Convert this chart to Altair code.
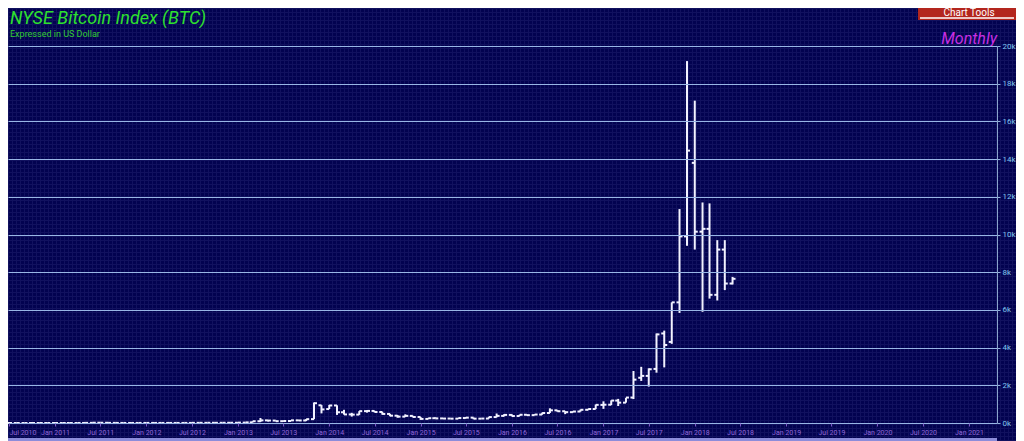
import altair as alt
import pandas as pd

# ---------------- data (monthly OHLC, US$) ----------------
first_month = "2010-07-01"
opens = [
    0.05, 0.07, 0.06, 0.06, 0.19, 0.21,
    0.30, 0.5, 0.9, 0.8, 3.5, 8.7, 16, 13.4, 8.2, 5.1, 3.2, 3.0,
    4.7, 5.5, 4.9, 4.9, 5.0, 5.1, 6.7, 9.4, 10.0, 12.4, 11.2, 12.5,
    13.5, 20.4, 33.4, 93, 139, 129, 97, 106, 141, 134, 205, 940,
    740, 930, 570, 455, 445, 630, 640, 585, 480, 388, 338, 378,
    320, 217, 254, 244, 236, 230, 263, 284, 230, 236, 314, 378,
    430, 369, 437, 416, 448, 531, 673, 624, 575, 609, 700, 742,
    960, 970, 1190, 1080, 1350, 2400, 2500, 2870, 4750, 4300, 6400, 9900,
    13800, 10150, 10300, 6800, 9200, 7400,
]
highs = [
    0.09, 0.07, 0.07, 0.20, 0.39, 0.30,
    0.5, 1.1, 0.95, 3.9, 9, 32, 16.5, 13.5, 8.2, 5.2, 3.2, 4.8,
    7.4, 6.3, 5.6, 5.4, 5.2, 6.8, 9.6, 15.4, 12.5, 12.9, 12.6, 13.9,
    20.4, 33.5, 94, 266, 140, 130, 111, 141, 145, 214, 1090, 950,
    960, 940, 700, 540, 630, 670, 650, 600, 490, 420, 460, 385,
    320, 270, 300, 260, 248, 267, 318, 285, 247, 333, 503, 469,
    460, 446, 440, 466, 550, 780, 680, 626, 620, 715, 750, 980,
    1150, 1200, 1280, 1340, 2760, 2980, 2900, 4750, 4900, 6400, 11350, 19200,
    17100, 11700, 11650, 9700, 9700, 7750,
]
lows = [
    0.05, 0.06, 0.06, 0.06, 0.19, 0.20,
    0.3, 0.5, 0.7, 0.8, 3.0, 8.7, 12, 7, 4.8, 2.3, 2.0, 2.8,
    4.7, 4.2, 4.5, 4.7, 4.9, 5.0, 6.4, 7.1, 9.8, 10.5, 10.5, 12.5,
    13.3, 19.1, 33, 50, 79, 88, 65, 100, 110, 103, 200, 510,
    740, 430, 445, 340, 430, 550, 565, 440, 360, 280, 325, 300,
    165, 205, 235, 212, 225, 218, 253, 200, 226, 236, 300, 350,
    350, 366, 403, 416, 435, 530, 600, 470, 570, 600, 680, 740,
    750, 950, 900, 1080, 1270, 2230, 1930, 2670, 2950, 4200, 5840, 9400,
    9200, 5900, 6600, 6500, 7050, 7350,
]
closes = [
    0.07, 0.06, 0.06, 0.19, 0.21, 0.30,
    0.5, 0.9, 0.8, 3.5, 8.7, 16, 13.4, 8.2, 5.1, 3.2, 3.0, 4.7,
    5.5, 4.9, 4.9, 5.0, 5.1, 6.7, 9.4, 10.0, 12.4, 11.2, 12.5, 13.5,
    20.4, 33.4, 93, 139, 129, 97, 106, 141, 134, 204, 1050, 720,
    930, 570, 455, 445, 630, 640, 585, 480, 388, 338, 378, 320,
    217, 254, 244, 236, 230, 263, 284, 230, 236, 314, 378, 430,
    369, 437, 416, 448, 531, 673, 624, 575, 609, 700, 742, 963,
    970, 1190, 1080, 1350, 2300, 2500, 2850, 4700, 4140, 6400, 9900, 14450,
    10150, 10300, 6800, 9200, 7400, 7650,
]
y_ticks = list(range(0, 20001, 2000))
x_label_years = list(range(2010, 2022))

months = pd.date_range(first_month, periods=len(opens), freq="MS").strftime("%Y-%m-%d")
df = pd.DataFrame({"date": months, "open": opens, "high": highs, "low": lows, "close": closes})

# ---------------- geometry / style ----------------
PW, PH = 989, 377          # plot area
PAD = {"left": 0, "top": 38, "right": 19, "bottom": 18}
CW, CH = PW + PAD["left"] + PAD["right"], PH + PAD["top"] + PAD["bottom"]
BG = "#020250"
FINE = "#11115f"
BAR = "#f2f2ff"
FONT = "Roboto"

x_vals = []
for yr in x_label_years:
    for mo in (1, 7):
        if (2010, 7) <= (yr, mo) <= (2021, 1):
            x_vals.append(alt.DateTime(year=yr, month=mo, date=1, utc=True))

x_scale = alt.Scale(type="utc",
                    domain=[alt.DateTime(year=2010, month=6, date=27, utc=True),
                            alt.DateTime(year=2021, month=4, date=23, utc=True)])
y_scale = alt.Scale(domain=[0, 20000], nice=False, zero=True)

x_axis = alt.Axis(values=x_vals, format="%b %Y", title=None, grid=False, domain=False,
                  labelColor="#9066d8", labelFontSize=7, labelFont=FONT, tickColor="#7a56c4",
                  tickSize=3, labelPadding=2, labelFlush=5, zindex=1)
y_axis = alt.Axis(values=y_ticks, orient="right", title=None, grid=True, gridColor="#98b6e6",
                  gridWidth=1.1, labelExpr="datum.value/1000 + 'k'", labelColor="#80c6ee",
                  labelFontSize=8, labelFont=FONT, tickColor="#8fb0dc", tickSize=3,
                  labelPadding=2, domainColor="#8aa4cc", zindex=1)


def stripes(n_px, step, line, gap):
    stops = []
    for p in range(0, n_px, step):
        a, b, c = p / n_px, (p + 1) / n_px, min((p + step) / n_px, 1.0)
        stops += [alt.GradientStop(offset=a, color=line), alt.GradientStop(offset=b, color=line),
                  alt.GradientStop(offset=b, color=gap), alt.GradientStop(offset=c, color=gap)]
    return stops


one = alt.Data(values=[{"k": 1}])
canvas_box = dict(x=alt.value(0), x2=alt.value(CW), y=alt.value(-PAD["top"]), y2=alt.value(CH - PAD["top"]))

bg_v = alt.Chart(one).mark_rect(
    fill=alt.LinearGradient(gradient="linear", x1=0, x2=1, y1=0, y2=0,
                            stops=stripes(CW, 4, FINE, BG))
).encode(**canvas_box)
bg_h = alt.Chart(one).mark_rect(
    fill=alt.LinearGradient(gradient="linear", x1=0, x2=0, y1=0, y2=1,
                            stops=stripes(CH, 4, FINE, "rgba(0,0,0,0)"))
).encode(**canvas_box)

strip = alt.Chart(one).mark_rect(color="#8c8cda").encode(
    x=alt.value(0), x2=alt.value(PW), y=alt.value(392), y2=alt.value(CH - PAD["top"]))

base = alt.Chart(df)
xe = alt.X("date:T", scale=x_scale, axis=x_axis)
hl = base.mark_rule(color=BAR, strokeWidth=2).encode(
    x=xe, y=alt.Y("high:Q", scale=y_scale, axis=y_axis), y2="low:Q")
op = base.mark_rule(color=BAR, strokeWidth=2, xOffset=-3, x2Offset=0).encode(
    x=xe, x2="date:T", y=alt.Y("open:Q", scale=y_scale, axis=y_axis))
cl = base.mark_rule(color=BAR, strokeWidth=2, xOffset=0, x2Offset=3).encode(
    x=xe, x2="date:T", y=alt.Y("close:Q", scale=y_scale, axis=y_axis))

title = alt.Chart(one).mark_text(text="NYSE Bitcoin Index (BTC)", font=FONT, fontSize=18,
                                 fontStyle="italic", color="#2ee02e", align="left",
                                 baseline="alphabetic").encode(x=alt.value(2), y=alt.value(-22))
subtitle = alt.Chart(one).mark_text(text="Expressed in US Dollar", font=FONT, fontSize=9,
                                    color="#33cc33", align="left",
                                    baseline="alphabetic").encode(x=alt.value(2), y=alt.value(-9))
monthly = alt.Chart(one).mark_text(text="Monthly", font=FONT, fontSize=16, fontStyle="italic",
                                   color="#c72ee2", align="right",
                                   baseline="alphabetic").encode(x=alt.value(PW), y=alt.value(-2))
btn = alt.Chart(one).mark_rect(color="#b3261e").encode(
    x=alt.value(910), x2=alt.value(CW), y=alt.value(-PAD["top"]), y2=alt.value(-26))
btn_line = alt.Chart(one).mark_rule(color="#ffffff", strokeWidth=1.5).encode(
    x=alt.value(912), x2=alt.value(CW - 2), y=alt.value(-28))
btn_text = alt.Chart(one).mark_text(text="Chart Tools", font=FONT, fontSize=10, color="#ffffff",
                                    align="center", baseline="alphabetic").encode(
    x=alt.value(961), y=alt.value(-30))

chart = alt.layer(bg_v, bg_h, strip, hl, op, cl, title, subtitle, monthly, btn, btn_line, btn_text).properties(
    width=PW, height=PH, padding=PAD, autosize=alt.AutoSizeParams(type="none")
).configure(background=BG).configure_view(strokeWidth=0)

chart.save("out.html", embed_options={"renderer": "svg", "actions": False})
